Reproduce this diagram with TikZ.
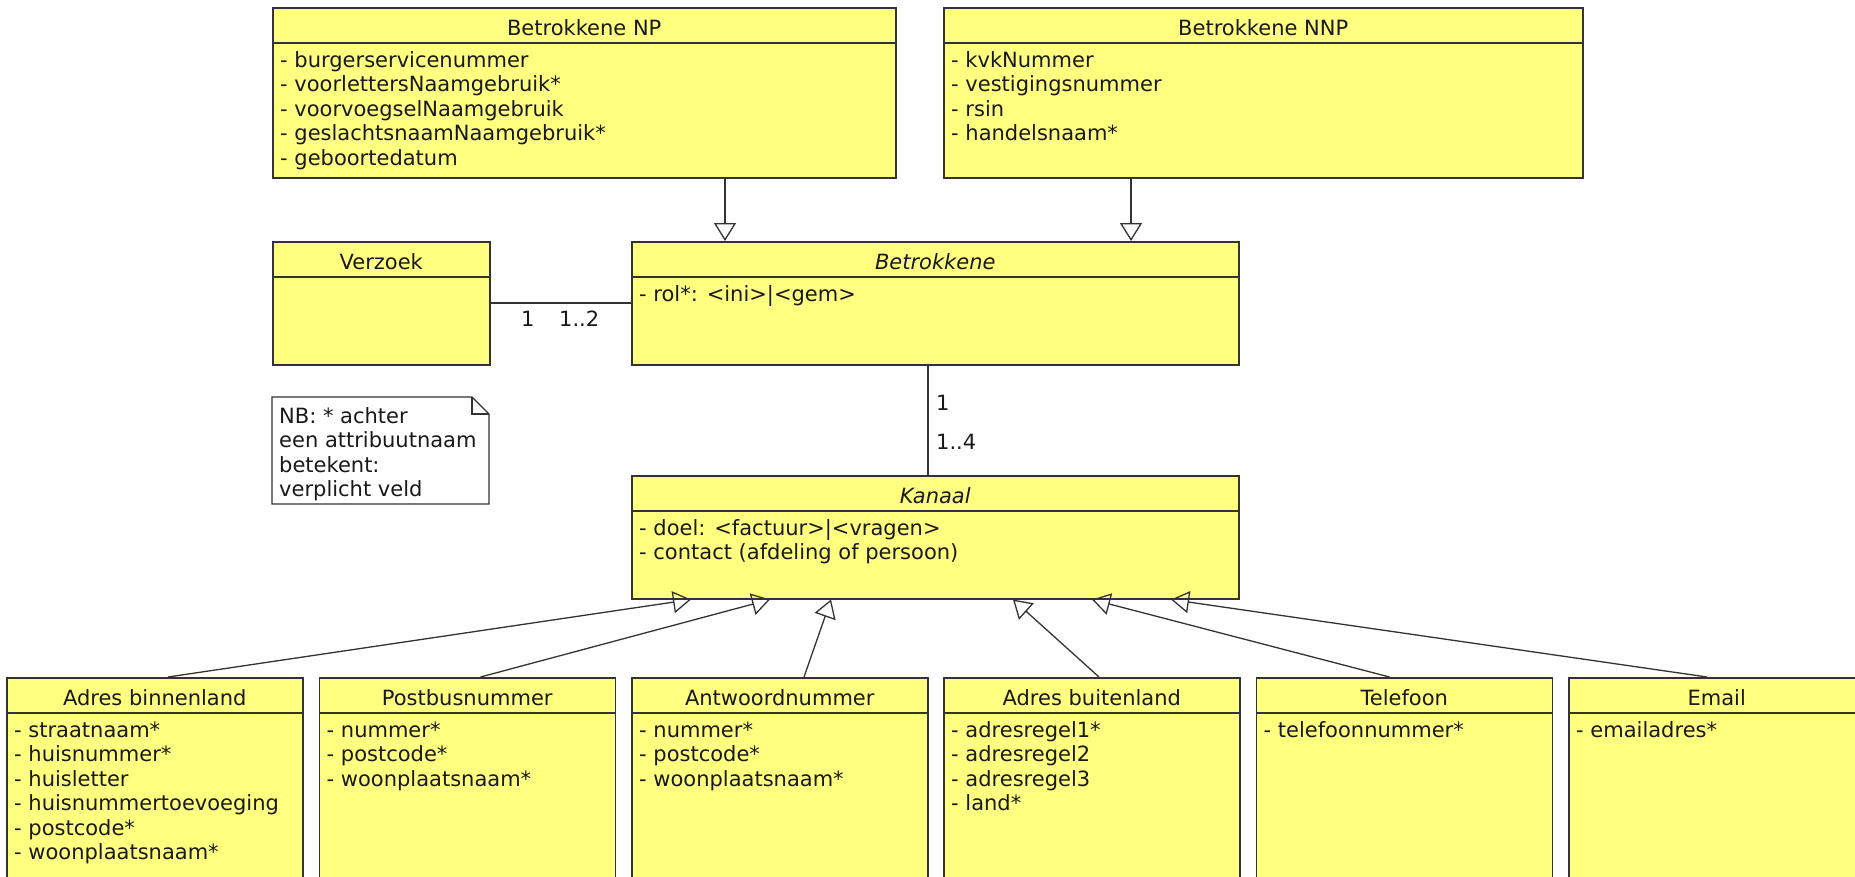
\documentclass[tikz,border=0pt]{standalone}
\usepackage{fontspec}
\setmainfont{DejaVu Sans}
\usetikzlibrary{arrows.meta}
\definecolor{umlyellow}{RGB}{255,255,128}
\definecolor{umlline}{RGB}{51,51,51}
\definecolor{umltext}{RGB}{25,25,25}
\tikzset{
  klasse/.style={draw=umlline, fill=umlyellow, line width=1.5pt, anchor=north west, inner sep=0pt},
  titel/.style={font=\fontsize{21}{24.5}\selectfont, text=umltext, anchor=base, inner sep=0pt},
  attr/.style={font=\fontsize{21}{24.5}\selectfont, text=umltext, anchor=base west, inner sep=0pt},
  erft/.style={draw=umlline, line width=1.3pt, -{Triangle[open, width=22pt, length=18pt, line width=1.3pt]}},
  assoc/.style={draw=umlline, line width=1.3pt}
}
\begin{document}
\begin{tikzpicture}[x=1pt,y=-1pt]
	\useasboundingbox (0,0) rectangle (1855,876);
	\clip (0,0) rectangle (1855,876);
	% klassen: naam/x/y/breedte/hoogte/titel/attributen
	\foreach \n/\x/\y/\w/\h/\t/\a in {
		np/272/7/623/170/Betrokkene NP/{- burgerservicenummer,- voorlettersNaamgebruik*,- voorvoegselNaamgebruik,- geslachtsnaamNaamgebruik*,- geboortedatum},
		nnp/943/7/639/170/Betrokkene NNP/{- kvkNummer,- vestigingsnummer,- rsin,- handelsnaam*},
		verzoek/272/241/217/123/Verzoek/{},
		betr/631/241/607/123/\textit{Betrokkene}/{- rol*: <ini>|<gem>},
		kanaal/631/475/607/123/\textit{Kanaal}/{- doel: <factuur>|<vragen>,- contact (afdeling of persoon)},
		adrbin/6/677/296/220/Adres binnenland/{- straatnaam*,- huisnummer*,- huisletter,- huisnummertoevoeging,- postcode*,- woonplaatsnaam*},
		postbus/318.5/677/296/220/Postbusnummer/{- nummer*,- postcode*,- woonplaatsnaam*},
		antw/631/677/296/220/Antwoordnummer/{- nummer*,- postcode*,- woonplaatsnaam*},
		adrbui/943/677/296/220/Adres buitenland/{- adresregel1*,- adresregel2,- adresregel3,- land*},
		tel/1255.5/677/296/220/Telefoon/{- telefoonnummer*},
		email/1568/677/296/220/Email/{- emailadres*}}{
		\node[klasse, minimum width=\w pt, minimum height=\h pt] (\n) at (\x,\y) {};
		\draw[umlline, line width=1.5pt] ([yshift=-36pt]\n.north west) -- ([yshift=-36pt]\n.north east);
		\node[titel] at ([yshift=-28pt]\n.north) {\t};
		\foreach \r [count=\i from 0] in \a {\node[attr] at ([xshift=8pt, yshift={-(60+24.5*\i)}]\n.north west) {\r};}
	}
	% notitie
	\draw[umlline, line width=1.3pt, fill=white] (272,397) -- (472,397) -- (489,414) -- (489,504) -- (272,504) -- cycle;
	\draw[umlline, line width=1.3pt] (472,397) -- (472,414) -- (489,414);
	\node[attr] (nb) at (279,423) {NB: * achter};
	\node[attr] at (279,447.5) {een attribuutnaam};
	\node[attr] at (279,472) {betekent:};
	\node[attr] at (279,496.5) {verplicht veld};
	% associaties
	\draw[assoc] ([yshift=-62pt]verzoek.north east) -- ([yshift=-62pt]betr.north west);
	\node[attr] at (521,326) {1};
	\node[attr] at (559,326) {1..2};
	\draw[assoc] ([xshift=297pt]betr.south west) -- ([xshift=297pt]kanaal.north west);
	\node[attr] at (936,410) {1};
	\node[attr] at (936,449) {1..4};
	% generalisaties
	\draw[erft] ([xshift=453pt]np.south west) -- ([xshift=94pt]betr.north west);
	\draw[erft] ([xshift=188pt]nnp.south west) -- ([xshift=500pt]betr.north west);
	\foreach \n/\s/\d in {adrbin/162/60, postbus/162/139, antw/173/200, adrbui/156/382, tel/134/461, email/139/540}
		\draw[erft] ([xshift=\s pt]\n.north west) -- ([xshift=\d pt]kanaal.south west);
\end{tikzpicture}
\end{document}
